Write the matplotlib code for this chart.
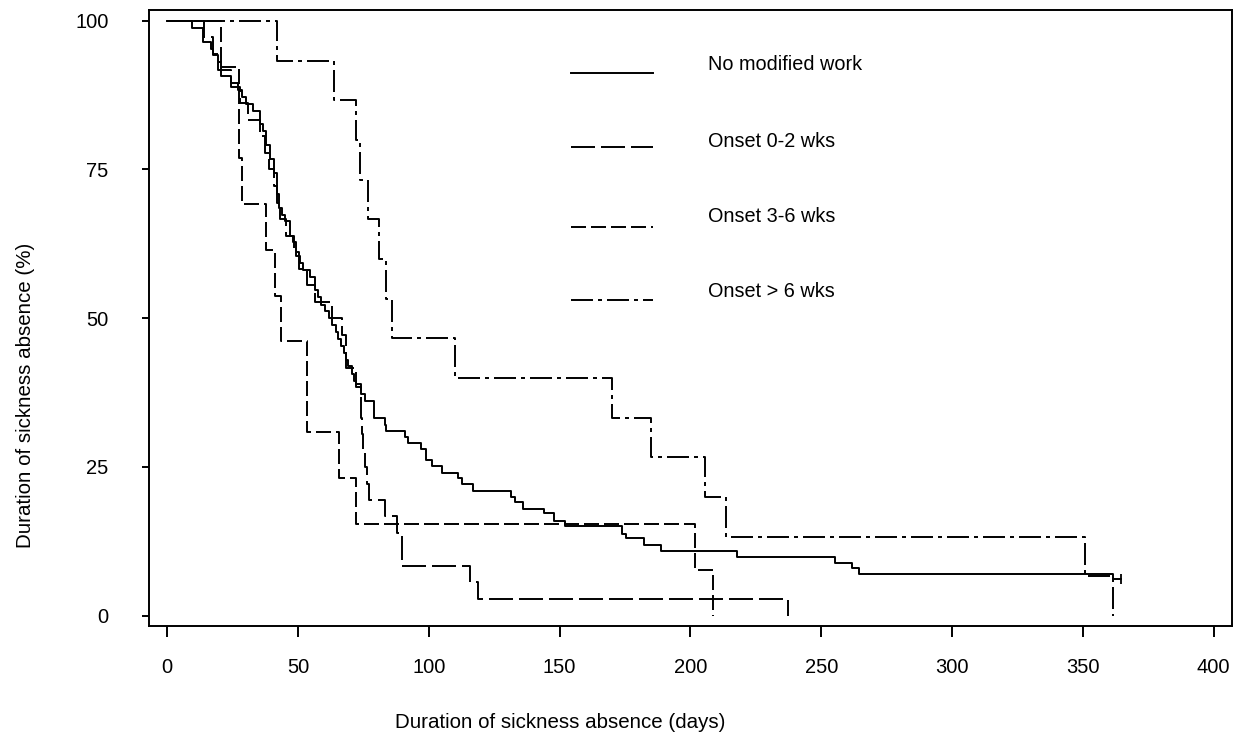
import matplotlib
matplotlib.use("Agg")
import matplotlib.pyplot as plt
from matplotlib.lines import Line2D

plt.rcParams['font.family'] = ['Liberation Sans', 'DejaVu Sans']
plt.rcParams['lines.scale_dashes'] = False

# ---------------- data (Kaplan-Meier style step curves) ----------------
labels = ["No modified work", "Onset 0-2 wks", "Onset 3-6 wks", "Onset > 6 wks"]

# No modified work: event days and survival level after each step
nomod_days = [0, 9.7, 13.8, 16.7, 17.6, 19.5, 20.8, 24.6, 27.1, 28.5, 30.3, 33, 35.4, 36.5, 38,
              39.5, 41, 42, 42.6, 44, 45, 46.9, 48, 49.4, 51, 52, 54.5, 56.4, 57.5, 59, 60.5,
              62, 63, 64.5, 65.5, 66.5, 67.5, 68.3, 69, 70.5, 71.5, 72.4, 74.3, 75.8, 79.1,
              83.2, 83.8, 90.8, 92.1, 97.2, 98.9, 101.4, 105.2, 111.2, 112.9, 116.9, 131.3,
              132.9, 136, 144, 147.9, 152, 174, 175.5, 182.2, 188.9, 218, 255.2, 261.8, 264.5,
              361.7, 364.7]
nomod_surv = [100, 98.8, 96.5, 95.3, 94.2, 93.0, 90.7, 89.5, 88.4, 87.2, 86.0, 84.9, 82.6, 81.4, 79.1,
              76.7, 74.4, 70.9, 68.6, 67.4, 66.3, 63.9, 62.8, 60.5, 59.3, 58.1, 57.0, 54.7, 53.5, 52.3, 51.2,
              50.0, 48.8, 47.7, 46.5, 45.3, 44.2, 43.0, 41.9, 40.7, 39.5, 38.4, 37.2, 36.1, 33.2,
              32.0, 31.0, 30.1, 29.1, 28.0, 26.1, 25.2, 24.0, 23.1, 22.1, 21.0, 20.0,
              19.1, 18.0, 17.2, 16.0, 15.0, 13.8, 13.0, 11.9, 10.9, 9.9, 8.9, 8.0, 7.0,
              6.1, 6.1]

# Onset 0-2 wks
on02_days = [0, 14, 17.6, 19.5, 24.6, 28, 31, 35.4, 37.5, 39, 41, 42.2, 43, 45.5, 48.5, 50.5,
             53.5, 56.4, 63, 67, 68.3, 72.4, 74, 74.3, 74.6, 75, 75.8, 76.6, 77, 83.2, 87.7,
             89.9, 115.9, 118.9, 237.4]
on02_surv = [100, 97.2, 94.4, 91.7, 88.9, 86.1, 83.3, 80.6, 77.8, 75.0, 72.2, 69.4, 66.7, 63.9, 61.1, 58.3,
             55.6, 52.8, 50.0, 47.2, 41.7, 38.9, 36.1, 33.3, 30.6, 27.8, 25.0, 22.2, 19.4, 16.7, 13.9,
             8.3, 5.6, 2.8, 0]

# Onset 3-6 wks
on36_days = [0, 20.8, 27.5, 28.8, 38, 41.2, 43.7, 53.6, 65.7, 72.1, 201.6, 208.6]
on36_surv = [100, 92.3, 76.9, 69.2, 61.5, 53.8, 46.2, 30.8, 23.1, 15.4, 7.7, 0]

# Onset > 6 wks
on6_days = [0, 42.2, 63.8, 72.4, 73.6, 76.8, 81, 83.8, 86.1, 110, 170, 185, 205.7, 213.7, 350.8, 361.7]
on6_surv = [100, 93.3, 86.7, 80.0, 73.3, 66.7, 60.0, 53.3, 46.7, 40.0, 33.3, 26.7, 20.0, 13.3, 6.7, 0]

# censored observations (day, level)
cens_days = [364.7]
cens_surv = [6.1]

xticks = [0, 50, 100, 150, 200, 250, 300, 350, 400]
yticks = [0, 25, 50, 75, 100]

# ---------------- figure ----------------
W, H = 1234, 738
fig = plt.figure(figsize=(W / 100, H / 100), dpi=100)
ax = fig.add_axes([149 / W, 1 - 626 / H, (1232 - 149) / W, (626 - 10) / H])

px = 0.72  # points per pixel
styles = [
    dict(linestyle='-'),
    dict(linestyle=(0, (24 * px, 6 * px))),
    dict(linestyle=(0, (15 * px, 5 * px))),
    dict(linestyle=(0, (22 * px, 5 * px, 4 * px, 5 * px))),
]
lw = 1.4
series = [(nomod_days, nomod_surv), (on02_days, on02_surv), (on36_days, on36_surv), (on6_days, on6_surv)]
for (d, s), st in zip(series, styles):
    ax.step(d, s, where='post', color='black', lw=lw, **st)

ax.plot(cens_days, cens_surv, linestyle='none', marker='|', markersize=7, mew=1.3, color='black')

ax.set_xlim(-6.9, 407)
ax.set_ylim(-1.73, 101.8)
ax.set_xticks(xticks)
ax.set_yticks(yticks)
ax.tick_params(axis='x', length=8, width=1.4, pad=15, labelsize=14.5)
ax.tick_params(axis='y', length=5, width=1.4, pad=24, labelsize=14.5)
for sp in ax.spines.values():
    sp.set_linewidth(1.4)

# legend drawn as in the original (samples with text to the right)
leg_y = [73.3, 146.7, 226.7, 300.0]
txt_y = [65, 141.7, 216.7, 291.7]
for lab, st, ly, ty in zip(labels, styles, leg_y, txt_y):
    fig.add_artist(Line2D([570.7 / W, 652.7 / W], [1 - ly / H, 1 - ly / H],
                          transform=fig.transFigure, color='black', lw=lw, **st))
    fig.text(708 / W, 1 - ty / H, lab, ha='left', va='center', fontsize=14.3)

fig.text(560 / W, 1 - 722 / H, "Duration of sickness absence (days)", ha='center', va='center', fontsize=14.8)
fig.text(26 / W, 1 - 395 / H, "Duration of sickness absence (%)", ha='center', va='center',
         rotation=90, fontsize=14.8)

fig.savefig("out.png", dpi=100)
